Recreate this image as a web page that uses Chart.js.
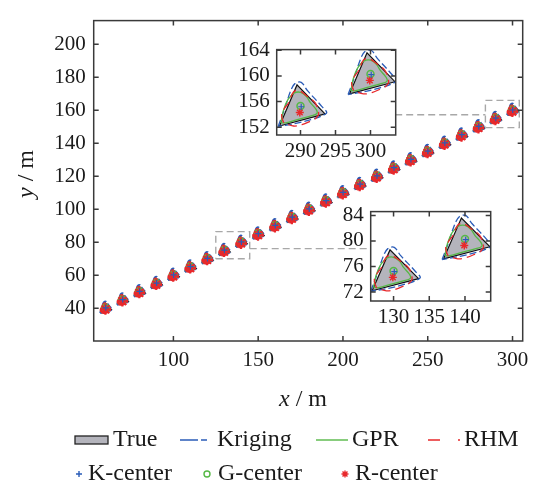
<!DOCTYPE html>
<html>
<head>
<meta charset="utf-8">
<script src="https://cdn.jsdelivr.net/npm/chart.js@4.4.1/dist/chart.umd.min.js"></script>
<style>
  html, body { margin: 0; padding: 0; background: #fff; }
  #wrap { position: relative; width: 538px; height: 483px; }
  #wrap canvas { position: absolute; }
</style>
</head>
<body>
<div id="wrap">
  <canvas id="mainChart" width="538" height="483" style="left:0;top:0;width:538px;height:483px"></canvas>
  <canvas id="zoomUpper" width="175" height="130" style="left:230px;top:30px;width:175px;height:130px"></canvas>
  <canvas id="zoomLower" width="175" height="140" style="left:325px;top:192px;width:175px;height:140px"></canvas>
</div>
<script>
// --- track data (m) ---
// centres of the true triangles
const centerX = [60, 70, 80, 90, 100, 110, 120, 130, 140, 150, 160, 170, 180, 190, 200, 210, 220, 230, 240, 250, 260, 270, 280, 290, 300];
const centerY = [40, 45, 50, 55, 60, 65, 70, 75, 80, 85, 90, 95, 100, 105, 110, 115, 120, 125, 130, 135, 140, 145, 150, 155, 160];

// outlines, relative to each centre
const trueDx = [-3.0, -0.5, 3.5, -3.0];
const trueDy = [-2.8, 3.6, -0.9, -2.8];
const krigDx = [-3.2, -2.2, -1.4, -0.8, 0.1, 1.0, 3.0, 3.7, 0.5, -3.2];
const krigDy = [-2.9, 0.1, 2.7, 3.8, 4.0, 2.7, 0.3, -0.8, -2.1, -2.9];
const gprDx = [-2.8, -2.45, -1.8, -0.95, 0.0, 0.85, 1.4, 2.25, 2.35, 1.4, -0.45, -2.1, -2.8];
const gprDy = [-2.3, -0.4, 1.3, 2.3, 2.45, 1.8, 0.85, -0.25, -0.85, -1.25, -1.8, -2.3, -2.3];
const rhmDx = [-2.4, -2.7, -2.2, -1.7, -1.0, -0.2, 1.0, 2.1, 2.6, 2.2, 1.5, 0.2, -1.0, -2.4];
const rhmDy = [-2.3, -1.1, 0.1, 0.8, 2.5, 2.7, 1.8, 0.8, -0.9, -1.6, -2.0, -2.6, -2.8, -2.3];

// estimated centres, relative to the true centre
const kCenterOff = [0.1, 0.2];
const gCenterOff = [0.0, 0.3];
const rCenterOff = [-0.1, -0.7];

// zoom windows marked on the main plot and their link lines
const zoomBoxX = [[125, 145], [284, 304]];
const zoomBoxY = [[70, 86.4], [149.5, 166]];
const linkX = [[145, 216.1], [230.8, 284]];
const linkY = [76.1, 157.3];

// tick labels
const mainXTicks = [100, 150, 200, 250, 300];
const mainYTicks = [40, 60, 80, 100, 120, 140, 160, 180, 200];
const upperXTicks = [290, 295, 300];
const upperYTicks = [152, 156, 160, 164];
const lowerXTicks = [130, 135, 140];
const lowerYTicks = [72, 76, 80, 84];

// --- styles ---
const SERIF = "'Liberation Serif', 'Times New Roman', serif";
const TEXT = '#1a1a1a';
const FRAME = '#3a3a3a';
const TRUE_FILL = '#b4b4bc';
const TRUE_EDGE = '#111111';
const KRIG = '#2a5cb8';
const GPR = '#55b845';
const RHM = '#e8282b';

function outline(i, dx, dy) {
  return dx.map((d, k) => ({ x: centerX[i] + d, y: centerY[i] + dy[k] }));
}
function shifted(off) {
  return centerX.map((cx, i) => ({ x: cx + off[0], y: centerY[i] + off[1] }));
}

// st: line widths, dashes and marker sizes for one view
function trackDatasets(st) {
  const sets = [];
  centerX.forEach((cx, i) => {
    sets.push({ data: outline(i, trueDx, trueDy), showLine: true, fill: 'shape',
      backgroundColor: TRUE_FILL, borderColor: TRUE_EDGE, borderWidth: 1.2, pointRadius: 0, order: 6 });
    sets.push({ data: outline(i, krigDx, krigDy), showLine: true, fill: false, tension: 0.35,
      borderColor: KRIG, borderDash: st.krigDash, borderWidth: st.lw, pointRadius: 0, order: 5 });
    sets.push({ data: outline(i, gprDx, gprDy), showLine: true, fill: false, tension: 0.35,
      borderColor: GPR, borderWidth: st.lw, pointRadius: 0, order: 4 });
    sets.push({ data: outline(i, rhmDx, rhmDy), showLine: true, fill: false, tension: 0.35,
      borderColor: RHM, borderDash: st.rhmDash, borderWidth: st.rhmLw, pointRadius: 0, order: 3 });
  });
  sets.push({ data: shifted(gCenterOff), showLine: false, pointStyle: 'circle', pointRadius: 3.5,
    pointBorderWidth: 1.5, pointBorderColor: GPR, pointBackgroundColor: 'rgba(0,0,0,0)', order: 2 });
  sets.push({ data: shifted(rCenterOff), showLine: false, pointStyle: 'star', pointRadius: st.star,
    pointBorderWidth: st.starLw, pointBorderColor: RHM, pointBackgroundColor: RHM, order: 1.5 });
  sets.push({ data: shifted(kCenterOff), showLine: false, pointStyle: 'cross', pointRadius: 3,
    pointBorderWidth: 1.2, pointBorderColor: KRIG, order: 1 });
  return sets;
}

function guideDatasets() {
  const sets = [];
  const guide = { showLine: true, fill: false, borderColor: '#a8a8a8', borderWidth: 1.4,
    borderDash: [7, 4], pointRadius: 0, order: 0 };
  zoomBoxX.forEach((bx, k) => {
    const by = zoomBoxY[k];
    sets.push(Object.assign({}, guide, { data: [
      { x: bx[0], y: by[0] }, { x: bx[1], y: by[0] }, { x: bx[1], y: by[1] },
      { x: bx[0], y: by[1] }, { x: bx[0], y: by[0] }] }));
    sets.push(Object.assign({}, guide, { data: [
      { x: linkX[k][0], y: linkY[k] }, { x: linkX[k][1], y: linkY[k] }] }));
  });
  return sets;
}

// white plot area, box frame and inward ticks on all four sides
const framePlugin = {
  id: 'frame',
  beforeDatasetsDraw(chart) {
    const { ctx, chartArea: a } = chart;
    ctx.save();
    ctx.fillStyle = '#fff';
    ctx.fillRect(a.left, a.top, a.right - a.left, a.bottom - a.top);
    ctx.restore();
  },
  afterDatasetsDraw(chart, args, opts) {
    const { ctx, chartArea: a, scales } = chart;
    const t = opts.tick;
    ctx.save();
    ctx.strokeStyle = FRAME;
    ctx.lineWidth = opts.width;
    ctx.beginPath();
    scales.x.ticks.forEach(tk => {
      const p = scales.x.getPixelForValue(tk.value);
      ctx.moveTo(p, a.bottom); ctx.lineTo(p, a.bottom - t);
      ctx.moveTo(p, a.top); ctx.lineTo(p, a.top + t);
    });
    scales.y.ticks.forEach(tk => {
      const p = scales.y.getPixelForValue(tk.value);
      ctx.moveTo(a.left, p); ctx.lineTo(a.left + t, p);
      ctx.moveTo(a.right, p); ctx.lineTo(a.right - t, p);
    });
    ctx.stroke();
    ctx.strokeRect(a.left, a.top, a.right - a.left, a.bottom - a.top);
    ctx.restore();
  }
};

// legend entries: symbol left edge (sx) and text start (tx) in px
const legendItems = [
  { label: 'True', sym: 'box', row: 0, sx: 75, w: 33, tx: 113 },
  { label: 'Kriging', sym: 'line', row: 0, sx: 180, w: 27, tx: 217, color: KRIG, dash: [18, 3, 6, 100] },
  { label: 'GPR', sym: 'line', row: 0, sx: 316, w: 32, tx: 352, color: GPR, dash: [] },
  { label: 'RHM', sym: 'line', row: 0, sx: 428, w: 32, tx: 464, color: RHM, dash: [12, 18, 2, 100] },
  { label: 'K-center', sym: 'cross', row: 1, sx: 75, w: 8, tx: 88, color: KRIG },
  { label: 'G-center', sym: 'circle', row: 1, sx: 203, w: 8, tx: 218, color: GPR },
  { label: 'R-center', sym: 'star', row: 1, sx: 341, w: 8, tx: 355, color: RHM }
];
const legendRowY = [440, 474];

function drawLabel(ctx, sym, text, cx, cy, rotate) {
  ctx.save();
  ctx.translate(cx, cy);
  if (rotate) ctx.rotate(-Math.PI / 2);
  ctx.fillStyle = TEXT;
  ctx.textBaseline = 'middle';
  const fi = 'italic 24px ' + SERIF, fr = '24px ' + SERIF;
  ctx.font = fi; const w1 = ctx.measureText(sym).width;
  ctx.font = fr; const w2 = ctx.measureText(text).width;
  let x = -(w1 + w2) / 2;
  ctx.font = fi; ctx.fillText(sym, x, 0);
  ctx.font = fr; ctx.fillText(text, x + w1, 0);
  ctx.restore();
}

const decorPlugin = {
  id: 'decor',
  afterDraw(chart) {
    const { ctx } = chart;
    drawLabel(ctx, 'x', ' / m', 303, 400, false);
    drawLabel(ctx, 'y', ' / m', 27, 174, true);

    ctx.save();
    ctx.font = '24px ' + SERIF;
    ctx.textBaseline = 'middle';
    legendItems.forEach(item => {
      const x = item.sx, y = legendRowY[item.row];
      ctx.save();
      if (item.sym === 'box') {
        ctx.fillStyle = TRUE_FILL;
        ctx.strokeStyle = '#222';
        ctx.lineWidth = 1.3;
        ctx.fillRect(x, y - 4, item.w, 8);
        ctx.strokeRect(x, y - 4, item.w, 8);
      } else if (item.sym === 'line') {
        ctx.strokeStyle = item.color;
        ctx.lineWidth = 1.4;
        ctx.setLineDash(item.dash);
        ctx.beginPath(); ctx.moveTo(x, y); ctx.lineTo(x + item.w, y); ctx.stroke();
      } else {
        ctx.strokeStyle = item.color;
        ctx.lineWidth = 1.4;
        ctx.beginPath();
        if (item.sym === 'circle') {
          ctx.arc(x + 4, y, 3, 0, Math.PI * 2);
        } else if (item.sym === 'cross') {
          ctx.moveTo(x + 1, y); ctx.lineTo(x + 7, y); ctx.moveTo(x + 4, y - 3); ctx.lineTo(x + 4, y + 3);
        } else {
          for (let k = 0; k < 4; k++) {
            const ang = k * Math.PI / 4;
            ctx.moveTo(x + 4 - 3.5 * Math.cos(ang), y - 3.5 * Math.sin(ang));
            ctx.lineTo(x + 4 + 3.5 * Math.cos(ang), y + 3.5 * Math.sin(ang));
          }
        }
        ctx.stroke();
      }
      ctx.restore();
      ctx.fillStyle = TEXT;
      ctx.fillText(item.label, item.tx, y);
    });
    ctx.restore();
  }
};

function axisOptions(min, max, tickValues, pad, fit) {
  return {
    type: 'linear', min: min, max: max,
    grid: { display: false, drawTicks: false },
    border: { display: false },
    ticks: { color: TEXT, padding: pad, font: { family: SERIF, size: 21 } },
    afterBuildTicks: s => { s.ticks = tickValues.map(v => ({ value: v })); },
    afterFit: fit
  };
}

function makeChart(id, datasets, x, y, padding, plugins) {
  return new Chart(document.getElementById(id), {
    type: 'scatter',
    data: { datasets: datasets },
    options: {
      responsive: false,
      animation: false,
      events: [],
      layout: { padding: padding },
      plugins: { legend: { display: false }, tooltip: { enabled: false }, frame: { width: 1.5, tick: 5 } },
      scales: { x: x, y: y }
    },
    plugins: plugins
  });
}

const mainStyle = { lw: 2, rhmLw: 2.6, krigDash: [6, 2], rhmDash: [5, 2], star: 5.5, starLw: 2.2 };
const zoomStyle = { lw: 1.3, rhmLw: 1.3, krigDash: [7, 3], rhmDash: [9, 5], star: 4, starLw: 1.4 };

// main track
makeChart('mainChart', guideDatasets().concat(trackDatasets(mainStyle)),
  axisOptions(53, 306, mainXTicks, 7, s => { s.height = 142; }),
  axisOptions(20.1, 214.4, mainYTicks, 8, s => { s.width = 93.7; }),
  { top: 12.3, right: 15.3, bottom: 0, left: 0 },
  [framePlugin, decorPlugin]);

// zoom around x = 290..300
makeChart('zoomUpper', trackDatasets(zoomStyle),
  axisOptions(286.6, 303.6, upperXTicks, 4, s => { s.height = 25; }),
  axisOptions(150.8, 164.1, upperYTicks, 7, s => { s.width = 46.7; }),
  { top: 12.7, right: 9.3, bottom: 0, left: 0 },
  [framePlugin]);

// zoom around x = 130..140
makeChart('zoomLower', trackDatasets(zoomStyle),
  axisOptions(126.8, 143.6, lowerXTicks, 4, s => { s.height = 31; }),
  axisOptions(70.6, 84.6, lowerYTicks, 7, s => { s.width = 45.7; }),
  { top: 13, right: 9.3, bottom: 0, left: 0 },
  [framePlugin]);
</script>
</body>
</html>
